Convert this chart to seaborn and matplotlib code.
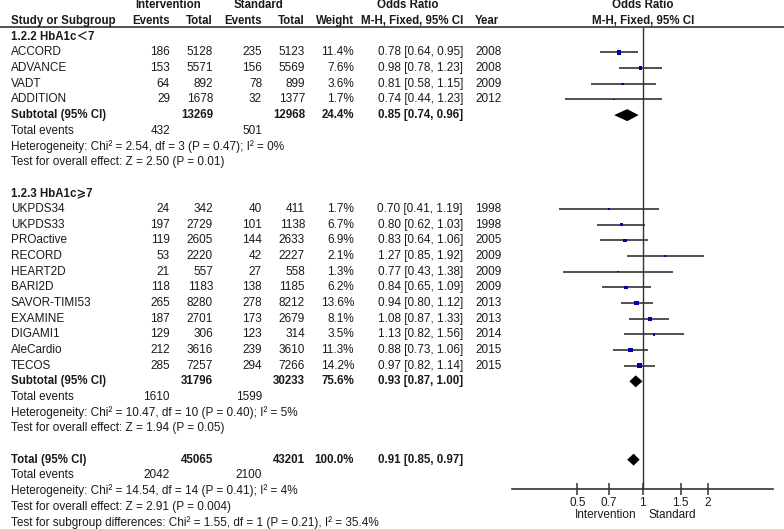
import numpy as np
import matplotlib
matplotlib.use("Agg")
import matplotlib.pyplot as plt
import seaborn as sns

# Data
studies1 = ["ACCORD", "ADVANCE", "VADT", "ADDITION"]
ev_int1 = [186, 153, 64, 29]
tot_int1 = [5128, 5571, 892, 1678]
ev_std1 = [235, 156, 78, 32]
tot_std1 = [5123, 5569, 899, 1377]
weight1 = [11.4, 7.6, 3.6, 1.7]
or1 = [0.78, 0.98, 0.81, 0.74]
lo1 = [0.64, 0.78, 0.58, 0.44]
hi1 = [0.95, 1.23, 1.15, 1.23]
year1 = [2008, 2008, 2009, 2012]

studies2 = ["UKPDS34", "UKPDS33", "PROactive", "RECORD", "HEART2D", "BARI2D",
            "SAVOR-TIMI53", "EXAMINE", "DIGAMI1", "AleCardio", "TECOS"]
ev_int2 = [24, 197, 119, 53, 21, 118, 265, 187, 129, 212, 285]
tot_int2 = [342, 2729, 2605, 2220, 557, 1183, 8280, 2701, 306, 3616, 7257]
ev_std2 = [40, 101, 144, 42, 27, 138, 278, 173, 123, 239, 294]
tot_std2 = [411, 1138, 2633, 2227, 558, 1185, 8212, 2679, 314, 3610, 7266]
weight2 = [1.7, 6.7, 6.9, 2.1, 1.3, 6.2, 13.6, 8.1, 3.5, 11.3, 14.2]
or2 = [0.70, 0.80, 0.83, 1.27, 0.77, 0.84, 0.94, 1.08, 1.13, 0.88, 0.97]
lo2 = [0.41, 0.62, 0.64, 0.85, 0.43, 0.65, 0.80, 0.87, 0.82, 0.73, 0.82]
hi2 = [1.19, 1.03, 1.06, 1.92, 1.38, 1.09, 1.12, 1.33, 1.56, 1.06, 1.14]
year2 = [1998, 1998, 2005, 2009, 2009, 2009, 2013, 2013, 2014, 2015, 2015]

# subtotal / total: [int total, std total, weight, OR, lo, hi, events int, events std]
sub1 = [13269, 12968, 24.4, 0.85, 0.74, 0.96, 432, 501]
sub2 = [31796, 30233, 75.6, 0.93, 0.87, 1.00, 1610, 1599]
total = [45065, 43201, 100.0, 0.91, 0.85, 0.97, 2042, 2100]
het1 = "Heterogeneity: Chi\u00b2 = 2.54, df = 3 (P = 0.47); I\u00b2 = 0%"
eff1 = "Test for overall effect: Z = 2.50 (P = 0.01)"
het2 = "Heterogeneity: Chi\u00b2 = 10.47, df = 10 (P = 0.40); I\u00b2 = 5%"
eff2 = "Test for overall effect: Z = 1.94 (P = 0.05)"
het_t = "Heterogeneity: Chi\u00b2 = 14.54, df = 14 (P = 0.41); I\u00b2 = 4%"
eff_t = "Test for overall effect: Z = 2.91 (P = 0.004)"
sub_diff = "Test for subgroup differences: Chi\u00b2 = 1.55, df = 1 (P = 0.21), I\u00b2 = 35.4%"

ticks = [0.5, 0.7, 1, 1.5, 2]
tick_labels = ["0.5", "0.7", "1", "1.5", "2"]

# %% Layout (pixel coordinates)
sns.set_theme(style="white")
plt.rcParams['font.family'] = ['Liberation Sans', 'DejaVu Sans', 'Noto Sans CJK SC']
FS = 8.5
FSB = 8.3
TXT = '#1a1a1a'


def row_y(i):
    return 5.5 + 15.66 * i


X_NAME, X_EVI, X_TOTI, X_EVS, X_TOTS, X_W, X_OR, X_YR = 11, 170, 213, 262, 305, 354, 463, 475

fig = plt.figure(figsize=(7.84, 5.29), dpi=100)
ax = fig.add_axes([0, 0, 1, 1])
ax.set_xlim(0, 784)
ax.set_ylim(529, 0)
ax.axis('off')


def txt(x, y, s, ha='left', bold=False):
    ax.text(x, y, s, ha=ha, va='center', fontsize=FSB if bold else FS, color=TXT,
            fontweight='bold' if bold else 'normal')


# Header
txt(168, row_y(0), "Intervention", ha='center', bold=True)
txt(259, row_y(0), "Standard", ha='center', bold=True)
txt(408, row_y(0), "Odds Ratio", ha='center', bold=True)
txt(643, row_y(0), "Odds Ratio", ha='center', bold=True)
txt(X_NAME, row_y(1) - 0.5, "Study or Subgroup", bold=True)
txt(X_EVI, row_y(1) - 0.5, "Events", ha='right', bold=True)
txt(X_TOTI, row_y(1) - 0.5, "Total", ha='right', bold=True)
txt(X_EVS, row_y(1) - 0.5, "Events", ha='right', bold=True)
txt(X_TOTS, row_y(1) - 0.5, "Total", ha='right', bold=True)
txt(X_W, row_y(1) - 0.5, "Weight", ha='right', bold=True)
txt(X_OR, row_y(1) - 0.5, "M-H, Fixed, 95% CI", ha='right', bold=True)
txt(X_YR, row_y(1) - 0.5, "Year", bold=True)
txt(643, row_y(1) - 0.5, "M-H, Fixed, 95% CI", ha='center', bold=True)
ax.plot([0, 784], [26.5, 26.5], color='#333333', lw=1.2)


def study_rows(start, names, evi, toti, evs, tots, w, o, lo, hi, yr):
    for k in range(len(names)):
        y = row_y(start + k)
        txt(X_NAME, y, names[k])
        txt(X_EVI, y, str(evi[k]), ha='right')
        txt(X_TOTI, y, str(toti[k]), ha='right')
        txt(X_EVS, y, str(evs[k]), ha='right')
        txt(X_TOTS, y, str(tots[k]), ha='right')
        txt(X_W, y, f"{w[k]:.1f}%", ha='right')
        txt(X_OR, y, f"{o[k]:.2f} [{lo[k]:.2f}, {hi[k]:.2f}]", ha='right')
        txt(X_YR, y, str(yr[k]))


def summary_rows(start, label, s, het, eff):
    y = row_y(start)
    txt(X_NAME, y, label, bold=True)
    txt(X_TOTI, y, str(s[0]), ha='right', bold=True)
    txt(X_TOTS, y, str(s[1]), ha='right', bold=True)
    txt(X_W, y, f"{s[2]:.1f}%", ha='right', bold=True)
    txt(X_OR, y, f"{s[3]:.2f} [{s[4]:.2f}, {s[5]:.2f}]", ha='right', bold=True)
    txt(X_NAME, row_y(start + 1), "Total events")
    txt(X_EVI, row_y(start + 1), str(s[6]), ha='right')
    txt(X_EVS, row_y(start + 1), str(s[7]), ha='right')
    txt(X_NAME, row_y(start + 2), het)
    txt(X_NAME, row_y(start + 3), eff)


txt(X_NAME, row_y(2), "1.2.2 HbA1c\uff1c7", bold=True)
study_rows(3, studies1, ev_int1, tot_int1, ev_std1, tot_std1, weight1, or1, lo1, hi1, year1)
summary_rows(7, "Subtotal (95% CI)", sub1, het1, eff1)
txt(X_NAME, row_y(12), "1.2.3 HbA1c\u2a7e7", bold=True)
study_rows(13, studies2, ev_int2, tot_int2, ev_std2, tot_std2, weight2, or2, lo2, hi2, year2)
summary_rows(24, "Subtotal (95% CI)", sub2, het2, eff2)
summary_rows(29, "Total (95% CI)", total, het_t, eff_t)
txt(X_NAME, row_y(33), sub_diff)

# %% Forest panel
AX_L, AX_R, AX_TOP, AX_BOT = 512, 773, 27, 489
axf = fig.add_axes([AX_L / 784, (529 - AX_BOT) / 529, (AX_R - AX_L) / 784, (AX_BOT - AX_TOP) / 529])
axf.set_xscale('log')
axf.set_xlim(0.25, 4)
axf.set_ylim(AX_BOT, AX_TOP)
axf.patch.set_alpha(0)
for side in ['top', 'right', 'left']:
    axf.spines[side].set_visible(False)
axf.spines['bottom'].set_color('#333333')
axf.spines['bottom'].set_linewidth(1.2)
axf.axvline(1, color='#333333', lw=1.0, zorder=1)

ys = [row_y(3 + k) for k in range(len(or1))] + [row_y(13 + k) for k in range(len(or2))]
ors = or1 + or2
los = lo1 + lo2
his = hi1 + hi2
ws = weight1 + weight2
axf.hlines(ys, los, his, color='#333333', lw=1.2, zorder=2)
sns.scatterplot(x=ors, y=ys, size=ws, sizes=(0, 12), size_norm=(0, 14.2), marker='s',
                color='#0000b0', edgecolor='none', legend=False, ax=axf, zorder=3)

for s, r in [(sub1, 7), (sub2, 24), (total, 29)]:
    y = row_y(r)
    axf.fill([s[4], s[3], s[5], s[3]], [y, y - 6, y, y + 6], color='black', lw=0, zorder=4)

axf.set_xticks(ticks)
axf.set_xticklabels(tick_labels)
axf.minorticks_off()
axf.tick_params(axis='x', which='major', direction='inout', length=9, width=1.1,
                color='#333333', labelsize=FS, labelcolor=TXT, pad=1, bottom=True)
axf.set_yticks([])
axf.set_ylabel('')

txt(606, 515, "Intervention", ha='center')
txt(672, 515, "Standard", ha='center')

plt.savefig('out.png', dpi=100)
